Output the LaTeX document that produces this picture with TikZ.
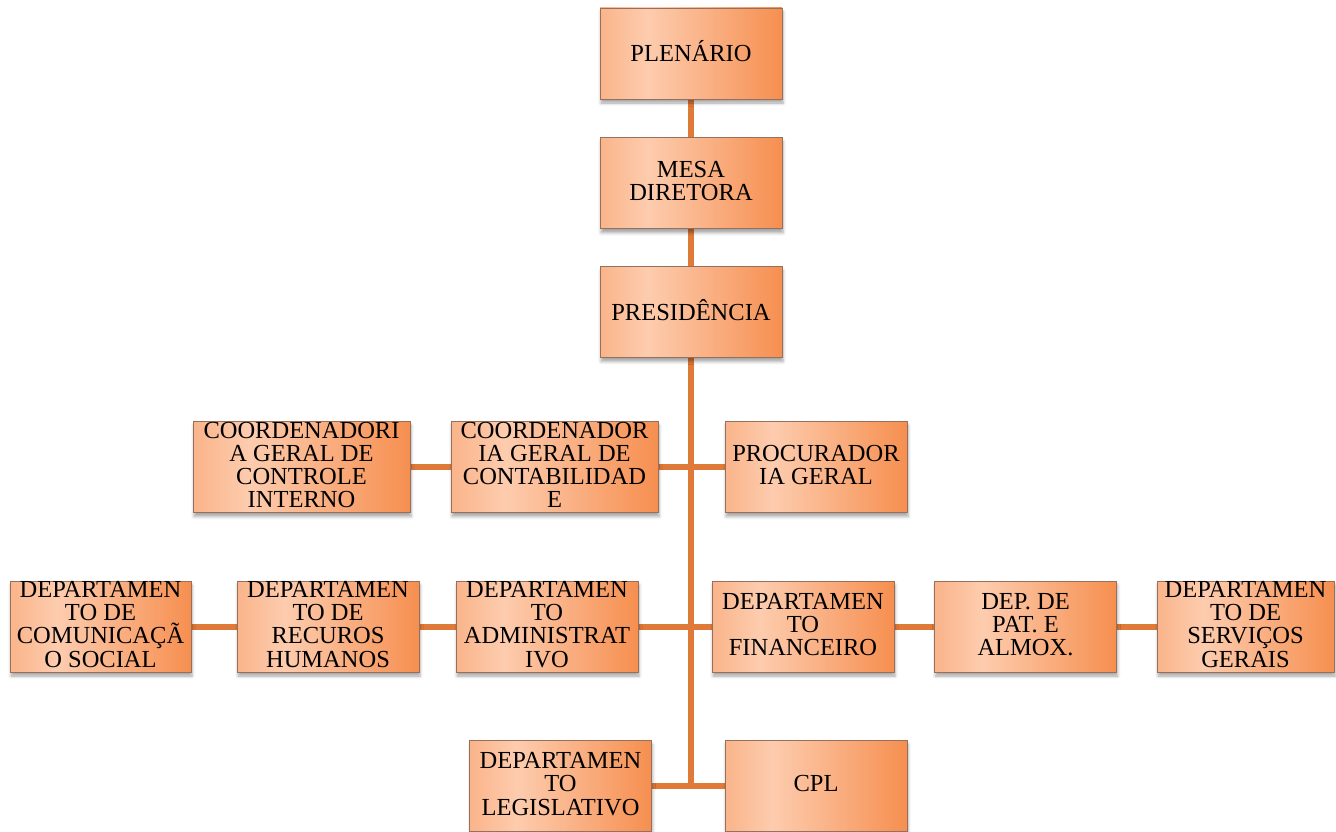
\documentclass[tikz,border=0pt]{standalone}
\usepackage{fontspec}
\setmainfont{Liberation Serif}
\usetikzlibrary{positioning, shadows.blur, backgrounds}
\definecolor{boxedge}{RGB}{150,112,92}
\definecolor{linkorange}{RGB}{224,122,56}
\definecolor{peachlight}{RGB}{253,204,174}
\definecolor{peachside}{RGB}{250,180,138}
\definecolor{orangedeep}{RGB}{246,143,80}
\pgfdeclarehorizontalshading{orgfill}{100bp}{color(0bp)=(peachside); color(25bp)=(peachside); color(38bp)=(peachlight); color(75bp)=(orangedeep); color(100bp)=(orangedeep)}
\newcommand{\boxlines}[1]{\smash{\raisebox{-7.5pt}{\begin{tabular}{@{}c@{}}#1\end{tabular}}}}
\tikzset{
    orgbox/.style = {draw=boxedge, line width=0.8pt, shading=orgfill, minimum width=182pt, minimum height=91pt, inner sep=0pt, font=\fontsize{24.5}{23}\selectfont, blur shadow={shadow xshift=1pt, shadow yshift=-4pt, shadow blur radius=3pt, shadow opacity=35}},
    link/.style = {draw=linkorange, line width=6pt}
}

\begin{document}
\begin{tikzpicture}[x=1pt, y=-1pt, node distance=37pt]
  \useasboundingbox (0,0) rectangle (1336,832);

  % top chain
  \node[orgbox] (plen) at (691,53.5) {\boxlines{PLENÁRIO}};
  \node[orgbox, below=38pt of plen] (mesa) {\boxlines{MESA\\DIRETORA}};
  \node[orgbox, below=of mesa] (pres) {\boxlines{PRESIDÊNCIA}};

  % first row
  \node[orgbox, minimum width=217pt] (ctrl) at (301.5,467) {\boxlines{COORDENADORI\\A GERAL DE\\CONTROLE\\INTERNO}};
  \node[orgbox, minimum width=207pt] (contab) at (554.5,467) {\boxlines{COORDENADOR\\IA GERAL DE\\CONTABILIDAD\\E}};
  \node[orgbox] (proc) at (816,467) {\boxlines{PROCURADOR\\IA GERAL}};

  % departments
  \node[orgbox, minimum width=181pt] (com) at (100.5,626.5) {\boxlines{DEPARTAMEN\\TO DE\\COMUNICAÇ\smash{Ã}\\O SOCIAL}};
  \node[orgbox] (rh) at (328,626.5) {\boxlines{DEPARTAMEN\\TO DE\\RECUROS\\HUMANOS}};
  \node[orgbox] (adm) at (547,626.5) {\boxlines{DEPARTAMEN\\TO\\ADMINISTRAT\\IVO}};
  \node[orgbox] (fin) at (803,626.5) {\boxlines{DEPARTAMEN\\TO\\FINANCEIRO}};
  \node[orgbox] (pat) at (1025.5,626.5) {\boxlines{DEP. DE\\PAT. E\\ALMOX.}};
  \node[orgbox, minimum width=177pt] (serv) at (1245.5,626.5) {\boxlines{DEPARTAMEN\\TO DE\\SERVIÇOS\\GERAIS}};

  % bottom row
  \node[orgbox] (leg) at (560.5,786) {\boxlines{DEPARTAMEN\\TO\\LEGISLATIVO}};
  \node[orgbox] (cpl) at (816,786) {\boxlines{CPL}};

  \coordinate (trunkend) at (pres.south |- cpl.west);

  \begin{scope}[on background layer]
    \draw[link] (plen) -- (mesa);
    \draw[link] (mesa) -- (pres);
    \draw[link] (pres.south) -- (trunkend);
    \draw[link] (ctrl) -- (contab);
    \draw[link] (contab) -- (proc);
    \draw[link] (com) -- (rh);
    \draw[link] (rh) -- (adm);
    \draw[link] (adm) -- (fin);
    \draw[link] (fin) -- (pat);
    \draw[link] (pat) -- (serv);
    \draw[link] (leg) -- (cpl);
  \end{scope}
\end{tikzpicture}
\end{document}
